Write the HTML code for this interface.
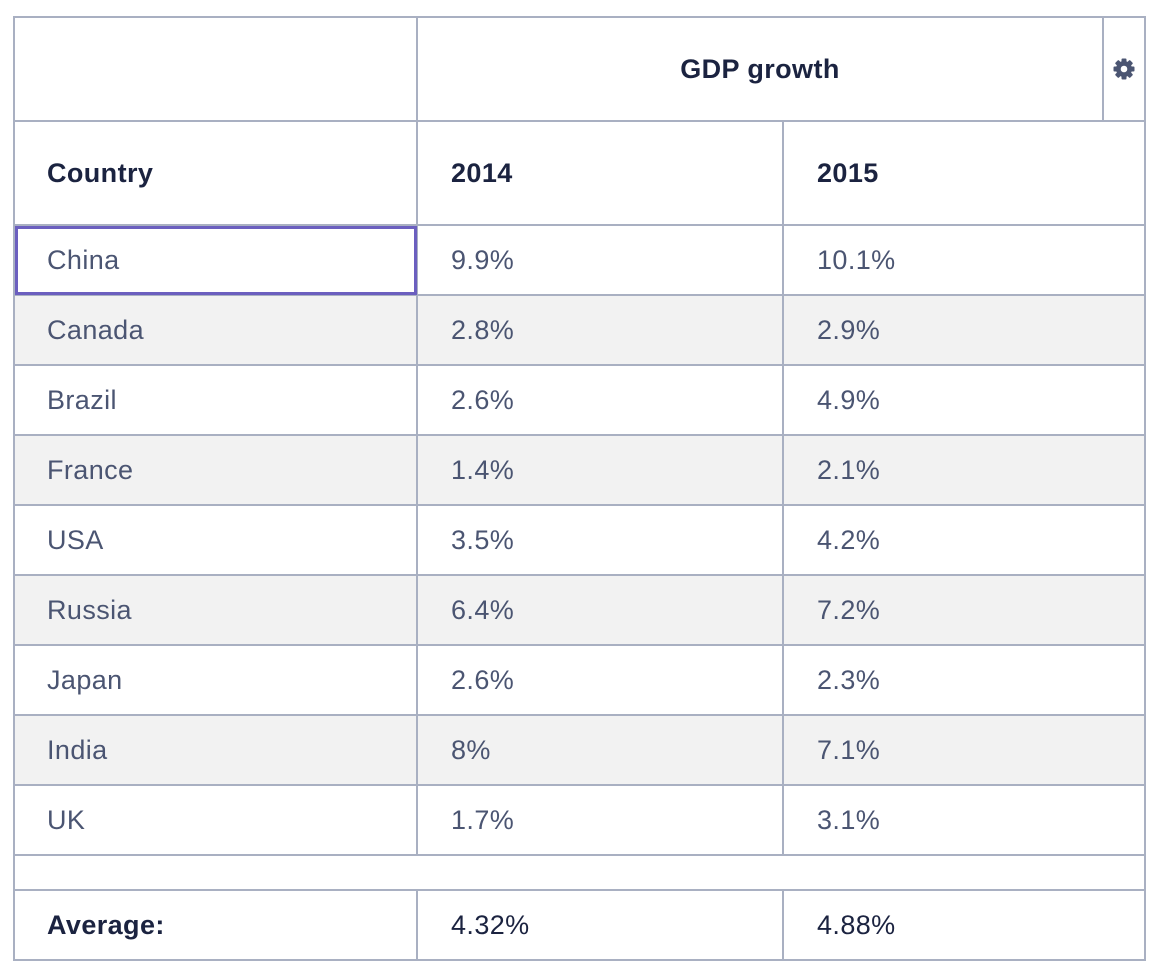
<!DOCTYPE html>
<html><head><meta charset="utf-8">
<style>
html,body{margin:0;padding:0;background:#fff;width:1158px;height:968px;overflow:hidden}
body{font-family:"Liberation Sans",sans-serif;position:relative}
.c{position:absolute;box-sizing:border-box;display:flex;align-items:center;font-size:27px;letter-spacing:0.4px;color:#4b5572}
.h{font-weight:bold;color:#1b2340}
.l{position:absolute;background:#a9b0c2}
.alt{position:absolute;background:#f2f2f2}
</style></head><body>
<div id="t"></div>
<script>
const countries=["China","Canada","Brazil","France","USA","Russia","Japan","India","UK"];
const v2014=["9.9%","2.8%","2.6%","1.4%","3.5%","6.4%","2.6%","8%","1.7%"];
const v2015=["10.1%","2.9%","4.9%","2.1%","4.2%","7.2%","2.3%","7.1%","3.1%"];
const avg=["4.32%","4.88%"];
const t=document.getElementById('t');
const X=[13,417,783,1145];
function add(cls,x,y,w,h,txt,name,pad){
  const d=document.createElement('div');d.className=cls;
  d.style.left=x+'px';d.style.top=y+'px';d.style.width=w+'px';d.style.height=h+'px';
  if(pad!==undefined)d.style.paddingLeft=pad+'px';
  if(txt!==undefined)d.textContent=txt;
  
  
  t.appendChild(d);return d;
}
for(let i=0;i<countries.length;i++){
  if(i%2===1){add('alt',X[0],225+i*70,X[3]-X[0],70,undefined,'row-stripe');}
}
const ys=[17,121,225];
for(let i=1;i<=countries.length;i++)ys.push(225+i*70);
ys.push(890,960);
ys.forEach(y=>add('l',X[0],y-1,X[3]-X[0]+1,2,undefined,'grid-line'));
add('l',X[0],16,2,945,undefined,'grid-line');
add('l',X[3]-1,16,2,945,undefined,'grid-line');
add('l',X[1]-1,16,2,839,undefined,'grid-line');
add('l',X[1]-1,890,2,71,undefined,'grid-line');
add('l',X[2]-1,121,2,734,undefined,'grid-line');
add('l',X[2]-1,890,2,71,undefined,'grid-line');
add('l',1102,16,2,105,undefined,'grid-line');
const g=add('c h',X[1],17,1103-X[1],104,'GDP growth','header-gdp-growth');g.style.justifyContent='center';
const gear=add('c',1103,17,42,104,undefined,'settings-gear-icon');

gear.style.justifyContent='center';
gear.innerHTML='<svg width="24" height="24" viewBox="0 0 24 24"><g fill="#4b5572"><circle cx="12" cy="12" r="8"/>'+
[0,45,90,135].map(a=>'<rect x="9.5" y="1.5" width="5" height="21" rx="1" transform="rotate('+a+' 12 12)"/>').join('')+
'</g><circle cx="12" cy="12" r="3.3" fill="#fff"/></svg>';
add('c h',X[0],121,404,104,'Country','header-country',34);
add('c h',X[1],121,366,104,'2014','header-2014',34);
add('c h',X[2],121,362,104,'2015','header-2015',34);
for(let i=0;i<countries.length;i++){
  const y=225+i*70;
  add('c',X[0],y,404,70,countries[i],'country-cell',34);
  add('c',X[1],y,366,70,v2014[i],'value-2014-cell',34);
  add('c',X[2],y,362,70,v2015[i],'value-2015-cell',34);
}
add('c h',X[0],890,404,70,'Average:','average-label',34);
const a1=add('c',X[1],890,366,70,avg[0],'average-2014',34);a1.style.color='#1b2340';
const a2=add('c',X[2],890,362,70,avg[1],'average-2015',34);a2.style.color='#1b2340';
const sel=add('',15,226,402,69,undefined,'selected-cell-outline');
sel.style.position='absolute';sel.style.boxSizing='border-box';sel.style.border='3px solid #6b5fbf';
</script>
</body></html>
